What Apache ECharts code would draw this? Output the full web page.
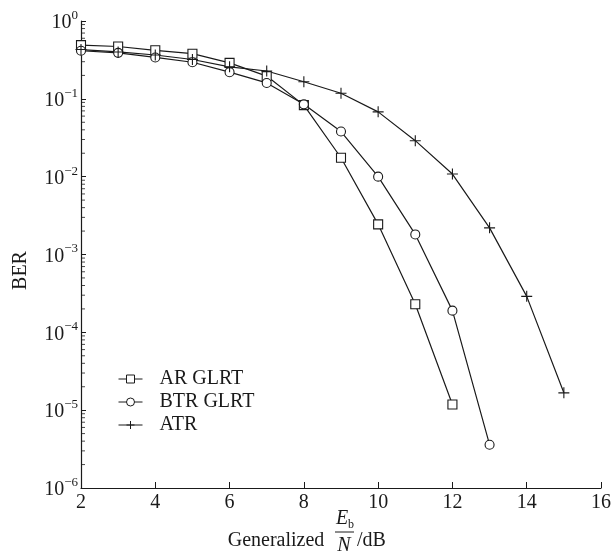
<!DOCTYPE html>
<html>
<head>
<meta charset="utf-8">
<script src="https://cdn.jsdelivr.net/npm/echarts@6/dist/echarts.min.js"></script>
<style>
  html, body { margin: 0; padding: 0; background: #fff; }
  #chart { width: 614px; height: 556px; }
</style>
</head>
<body>
<div id="chart"></div>
<script>
// Generalized Eb/N in dB
const snrDb = [2, 3, 4, 5, 6, 7, 8, 9, 10, 11, 12, 13, 14, 15]
const arGlrt = [0.49, 0.47, 0.42, 0.38, 0.29, 0.196, 0.083, 0.0175, 0.00244, 0.00023, 0.0000118]
const btrGlrt = [0.415, 0.39, 0.34, 0.295, 0.22, 0.16, 0.085, 0.038, 0.0100, 0.00181, 0.00019, 0.0000036]
const atr = [0.43, 0.40, 0.366, 0.32, 0.258, 0.228, 0.166, 0.118, 0.068, 0.029, 0.0108, 0.0022, 0.00029, 0.0000167]
const seriesNames = ['AR GLRT', 'BTR GLRT', 'ATR']
const decades = [-6, -5, -4, -3, -2, -1]
const minorMantissa = [2, 3, 4, 5, 6, 7, 8, 9]
const xMin = 2
const xMax = 16

const serif = '"Liberation Serif", "DejaVu Serif", serif'
const ink = '#1a1a1a'

// log minor ticks (2..9 in every decade), sitting on the left axis
const minorTicks = []
decades.forEach(d => minorMantissa.forEach(m => minorTicks.push([xMin, m * Math.pow(10, d)])))

function pairs(arr) {
  return arr.map((v, i) => [snrDb[i], v])
}

const chart = echarts.init(document.getElementById('chart'))

const common = {
  type: 'line',
  lineStyle: { color: ink, width: 1.2 },
  itemStyle: { color: '#fff', borderColor: ink, borderWidth: 1.1 },
  showAllSymbol: true,
  animation: false
}

const option = {
  backgroundColor: '#fff',
  animation: false,
  grid: { left: 81, right: 7, top: 21, bottom: 68 },
  legend: {
    orient: 'vertical',
    left: 113,
    top: 364,
    itemWidth: 24,
    itemHeight: 10,
    itemGap: 3,
    data: seriesNames,
    lineStyle: { width: 1 },
    itemStyle: { borderWidth: 1 },
    textStyle: { fontFamily: serif, fontSize: 20, color: ink, padding: [0, 0, 0, 12] }
  },
  xAxis: {
    type: 'value',
    min: xMin,
    max: xMax,
    interval: 2,
    splitLine: { show: false },
    axisLine: { lineStyle: { color: ink, width: 1.2 } },
    axisTick: { inside: true, length: 6, lineStyle: { color: ink } },
    axisLabel: { fontFamily: serif, fontSize: 20, color: ink, margin: 5 }
  },
  yAxis: {
    type: 'log',
    min: 1e-6,
    max: 1,
    logBase: 10,
    name: 'BER',
    nameLocation: 'middle',
    nameRotate: 90,
    nameGap: 50,
    nameTextStyle: { fontFamily: serif, fontSize: 20, color: ink, padding: [0, 32, 0, 0] },
    splitLine: { show: false },
    axisLine: { lineStyle: { color: ink, width: 1.2 } },
    axisTick: { inside: true, length: 5, lineStyle: { color: ink } },
    axisLabel: {
      margin: 3,
      formatter: function (v) {
        const e = Math.round(Math.log10(v))
        return '{b|10}{s|' + (e === 0 ? '0' : '\u2212' + (-e)) + '}'
      },
      rich: {
        b: { fontFamily: serif, fontSize: 20, color: ink, verticalAlign: 'bottom', lineHeight: 24 },
        s: { fontFamily: serif, fontSize: 13, color: ink, verticalAlign: 'top', lineHeight: 24 }
      }
    }
  },
  graphic: [
    { type: 'text', x: 276, y: 541, style: { text: 'Generalized', font: '20px ' + serif, fill: ink, textAlign: 'center', textVerticalAlign: 'middle' } },
    { type: 'text', x: 345, y: 520, style: { text: '{e|E}{b|b}', font: 'italic 20px ' + serif, fill: ink, textAlign: 'center', textVerticalAlign: 'middle',
      rich: { e: { fontFamily: serif, fontStyle: 'italic', fontSize: 20, verticalAlign: 'top', lineHeight: 22 }, b: { fontFamily: serif, fontSize: 12, verticalAlign: 'bottom', lineHeight: 22 } } } },
    { type: 'line', shape: { x1: 335, y1: 532, x2: 354, y2: 532 }, style: { stroke: ink, lineWidth: 1 } },
    { type: 'text', x: 344, y: 546, style: { text: 'N', font: 'italic 20px ' + serif, fill: ink, textAlign: 'center', textVerticalAlign: 'middle' } },
    { type: 'text', x: 357, y: 541, style: { text: '/dB', font: '20px ' + serif, fill: ink, textAlign: 'left', textVerticalAlign: 'middle' } }
  ],
  series: [
    Object.assign({}, common, { name: seriesNames[0], symbol: 'rect', symbolSize: 9, data: pairs(arGlrt) }),
    Object.assign({}, common, { name: seriesNames[1], symbol: 'circle', symbolSize: 9, data: pairs(btrGlrt) }),
    Object.assign({}, common, { name: seriesNames[2], symbol: 'path://M0,5 L10,5 M5,0 L5,10', symbolSize: 11, data: pairs(atr) }),
    {
      // minor log ticks drawn as short dashes on the y axis
      type: 'scatter',
      name: 'minor ticks',
      silent: true,
      clip: false,
      symbol: 'rect',
      symbolSize: [4, 1],
      symbolOffset: [2, 0],
      itemStyle: { color: ink },
      data: minorTicks
    }
  ]
}

chart.setOption(option)
</script>
</body>
</html>
